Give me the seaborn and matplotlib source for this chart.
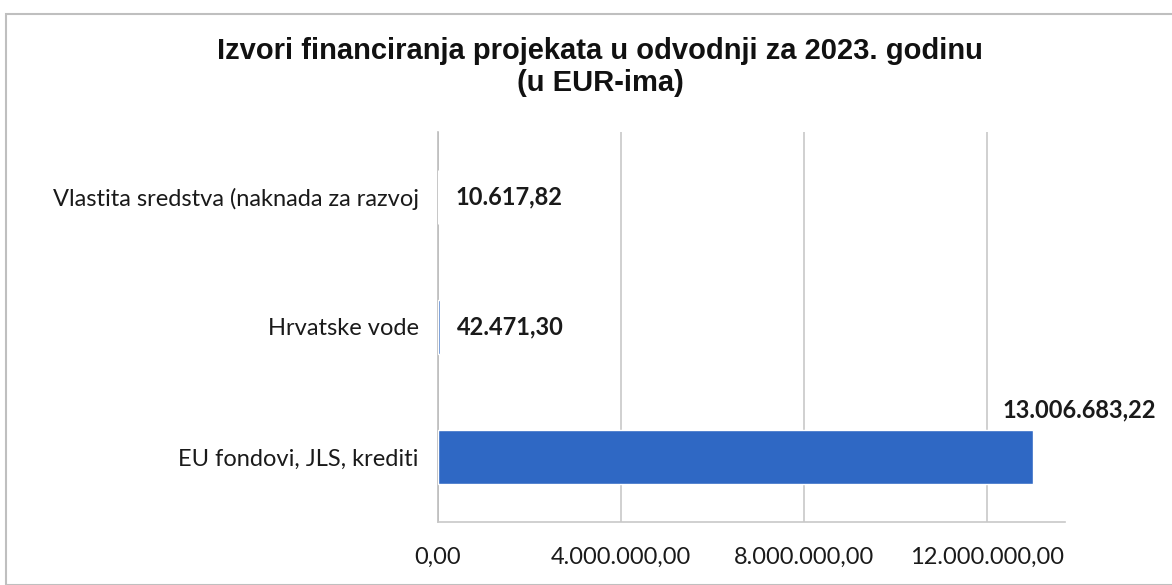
import matplotlib
matplotlib.use("Agg")
import matplotlib.pyplot as plt
import seaborn as sns
import pandas as pd
from matplotlib.patches import Rectangle
from matplotlib.ticker import FuncFormatter, FixedLocator

categories = ["Vlastita sredstva (naknada za razvoj", "Hrvatske vode", "EU fondovi, JLS, krediti"]
values = [10617.82, 42471.30, 13006683.22]
x_ticks = [0, 4000000, 8000000, 12000000]
title = "Izvori financiranja projekata u odvodnji za 2023. godinu\n(u EUR-ima)"

def hr_fmt(v, pos=None):
    s = f"{v:,.2f}"
    return s.replace(",", "X").replace(".", ",").replace("X", ".")

sns.set_theme(style="white")
plt.rcParams["font.family"] = ["Lato", "DejaVu Sans"]

df = pd.DataFrame({"cat": categories, "val": values})

fig = plt.figure(figsize=(11.72, 5.85), dpi=100)
ax = fig.add_axes([0.3737, 0.1077, 0.5350, 0.6667])

sns.barplot(data=df, x="val", y="cat", orient="h", color="#2f68c4",
            saturation=1, width=0.42, ax=ax, zorder=3)

ax.set_xlim(0, 13.7e6)
ax.set_ylim(2.5, -0.5)
ax.xaxis.set_major_locator(FixedLocator(x_ticks))
ax.xaxis.set_major_formatter(FuncFormatter(hr_fmt))
ax.grid(axis="x", color="#c8c8c8", linewidth=1.2, zorder=0)
ax.set_xlabel("")
ax.set_ylabel("")

for s in ["top", "right"]:
    ax.spines[s].set_visible(False)
ax.spines["left"].set_color("#bdbdbd")
ax.spines["bottom"].set_color("#c8c8c8")
ax.spines["left"].set_linewidth(1.2)
ax.spines["bottom"].set_linewidth(1.2)

ax.set_yticks([0, 1, 2])
ax.set_yticklabels(categories, fontsize=17, color="#1a1a1a")
ax.set_yticks([-0.5, 0.5, 1.5, 2.5], minor=True)
ax.tick_params(axis="y", which="major", length=0, pad=14)
ax.tick_params(axis="y", which="minor", length=6, color="#bdbdbd", width=1.2)
ax.tick_params(axis="x", which="major", length=6, color="#c8c8c8", width=1.2,
               labelsize=17, labelcolor="#1a1a1a", pad=12)

# value labels
for i, v in enumerate(values):
    if i < 2:
        ax.annotate(hr_fmt(v), xy=(v, i), xytext=(12, 0), textcoords="offset points",
                    ha="left", va="center", fontsize=17, fontweight="bold", color="#1a1a1a")
    else:
        ax.annotate(hr_fmt(v), xy=(v, i), xytext=(-22, 34), textcoords="offset points",
                    ha="left", va="center", fontsize=17, fontweight="bold", color="#1a1a1a")

fig.text(0.512, 0.885, title, ha="center", va="center", fontsize=21, fontweight="bold",
         family=["Liberation Sans Narrow", "Liberation Sans", "DejaVu Sans"],
         linespacing=1.2, color="#111111")

# outer frame
fig.patches.append(Rectangle((6 / 1172, 0.0), 1.2, 1 - 14 / 585, transform=fig.transFigure,
                             fill=False, edgecolor="#bfbfbf", linewidth=1.5))

fig.savefig("out.png", dpi=100, facecolor="white")
